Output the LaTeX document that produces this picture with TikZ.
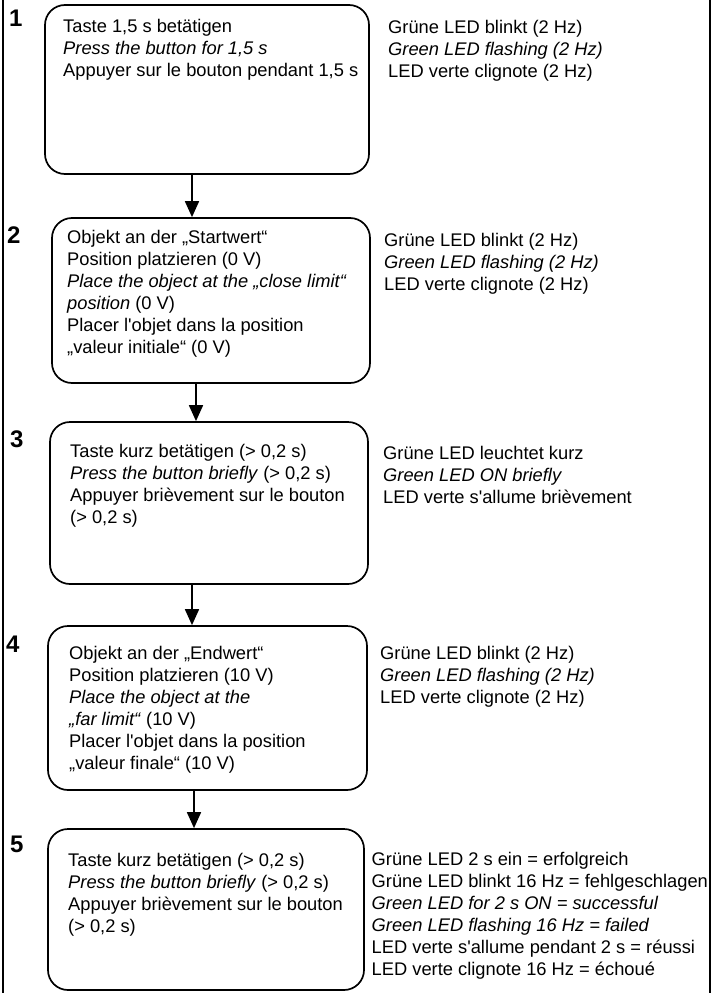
\documentclass[tikz,border=0pt]{standalone}
\usepackage{fontspec}
\setmainfont{Liberation Sans}
\usetikzlibrary{arrows.meta}
\newcommand\blocktext[1]{\begin{tabular}[t]{@{}l@{}}#1\end{tabular}}
\newcommand\ap{\textquotesingle}
\tikzset{
  stepbox/.style={draw, line width=1.7pt, rounded corners=20pt, inner sep=0pt},
  txt/.style={anchor=base west, inner sep=0pt, font=\fontsize{18.3}{22}\selectfont},
  num/.style={anchor=base west, inner sep=0pt, font=\fontsize{24}{28}\selectfont\bfseries},
  arr/.style={line width=1.7pt, -{Triangle[width=14pt,length=16pt]}},
  frame/.style={line width=2pt}
}
\begin{document}
\begin{tikzpicture}[x=1pt,y=-1pt]
\useasboundingbox (0,0) rectangle (712,993);
% outer frame lines
\draw[frame] (3,0) -- (3,993);
\draw[frame] (709.5,0) -- (709.5,993);

% boxes
\node[stepbox, minimum width=324pt, minimum height=169pt] (b1) at (207,89.5) {};
\node[stepbox, minimum width=318pt, minimum height=165pt] (b2) at (211,300.5) {};
\node[stepbox, minimum width=318pt, minimum height=162pt] (b3) at (209,503) {};
\node[stepbox, minimum width=319pt, minimum height=164pt] (b4) at (207.5,708) {};
\node[stepbox, minimum width=316pt, minimum height=161pt] (b5) at (206,909.5) {};

% step numbers
\node[num] (n1) at (9,27) {1};
\node[num] (n2) at (7,243) {2};
\node[num] (n3) at (10,447) {3};
\node[num] (n4) at (6,652) {4};
\node[num] (n5) at (10,852) {5};

% arrows
\coordinate (a12) at (192,0);
\coordinate (a23) at (196,0);
\coordinate (a34) at (192,0);
\coordinate (a45) at (194,0);
\draw[arr] (b1.south -| a12) -- (b2.north -| a12);
\draw[arr] (b2.south -| a23) -- (b3.north -| a23);
\draw[arr] (b3.south -| a34) -- (b4.north -| a34);
\draw[arr] (b4.south -| a45) -- (b5.north -| a45);

% box texts
\node[txt] (t1) at (63,32.3) {\blocktext{Taste 1,5 s betätigen\\
\textit{Press the button for 1,5 s}\\
Appuyer sur le bouton pendant 1,5 s}};
\node[txt] (t2) at (67,243.3) {\blocktext{Objekt an der „Startwert“\\
Position platzieren (0 V)\\
\textit{Place the object at the „close limit“}\\
\textit{position} (0 V)\\
Placer l\ap objet dans la position\\
„valeur initiale“ (0 V)}};
\node[txt] (t3) at (70,457.7) {\blocktext{Taste kurz betätigen (> 0,2 s)\\
\textit{Press the button briefly} (> 0,2 s)\\
Appuyer brièvement sur le bouton\\
(> 0,2 s)}};
\node[txt] (t4) at (69,659) {\blocktext{Objekt an der „Endwert“\\
Position platzieren (10 V)\\
\textit{Place the object at the}\\
\textit{„far limit“} (10 V)\\
Placer l\ap objet dans la position\\
„valeur finale“ (10 V)}};
\node[txt] (t5) at (68,866) {\blocktext{Taste kurz betätigen (> 0,2 s)\\
\textit{Press the button briefly} (> 0,2 s)\\
Appuyer brièvement sur le bouton\\
(> 0,2 s)}};

% LED texts
\node[txt] (r1) at (388,33.5) {\blocktext{Grüne LED blinkt (2 Hz)\\
\textit{Green LED flashing (2 Hz)}\\
LED verte clignote (2 Hz)}};
\node[txt] (r2) at (384,246) {\blocktext{Grüne LED blinkt (2 Hz)\\
\textit{Green LED flashing (2 Hz)}\\
LED verte clignote (2 Hz)}};
\node[txt] (r3) at (383,459) {\blocktext{Grüne LED leuchtet kurz\\
\textit{Green LED ON briefly}\\
LED verte s\ap allume brièvement}};
\node[txt] (r4) at (380,659) {\blocktext{Grüne LED blinkt (2 Hz)\\
\textit{Green LED flashing (2 Hz)}\\
LED verte clignote (2 Hz)}};
\node[txt] (r5) at (371.5,865) {\blocktext{Grüne LED 2 s ein = erfolgreich\\
Grüne LED blinkt 16 Hz = fehlgeschlagen\\
\textit{Green LED for 2 s ON = successful}\\
\textit{Green LED flashing 16 Hz = failed}\\
LED verte s\ap allume pendant 2 s = réussi\\
LED verte clignote 16 Hz = échoué}};
\end{tikzpicture}
\end{document}
